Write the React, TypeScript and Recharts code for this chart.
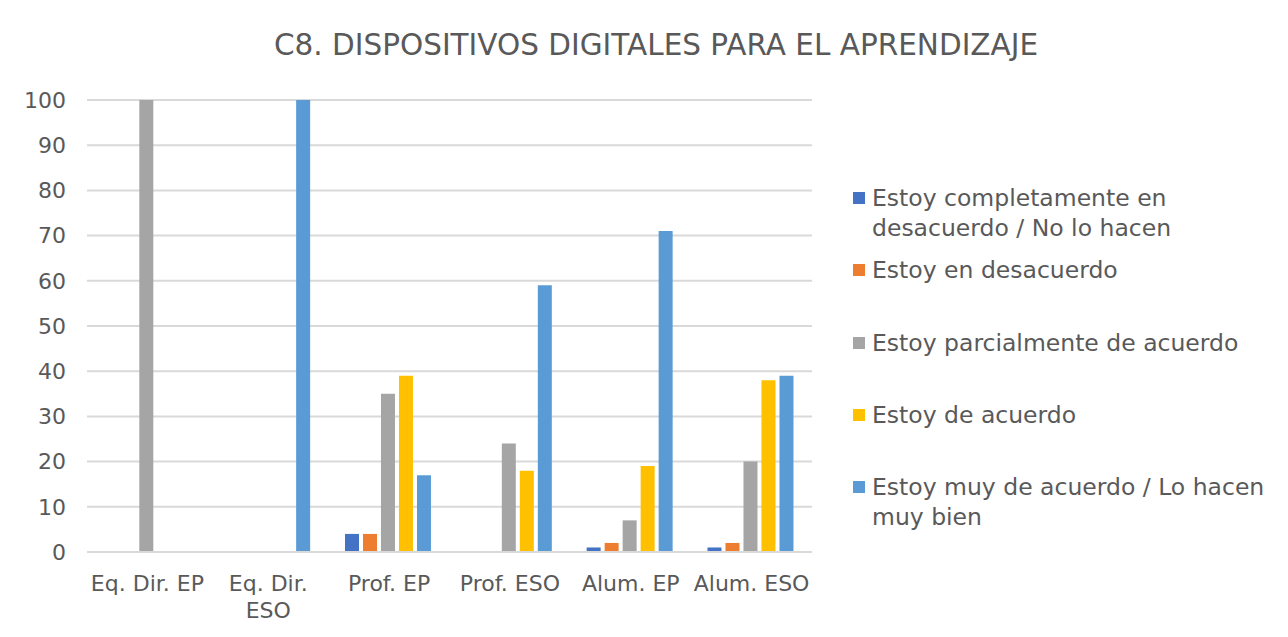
import { Bar, BarChart, CartesianGrid, Legend, XAxis, YAxis } from "recharts";

const categories = ["Eq. Dir. EP", "Eq. Dir. ESO", "Prof. EP", "Prof. ESO", "Alum. EP", "Alum. ESO"];
const tickLines: string[][] = [["Eq. Dir. EP"], ["Eq. Dir.", "ESO"], ["Prof. EP"], ["Prof. ESO"], ["Alum. EP"], ["Alum. ESO"]];

const completDesacuerdo = [0, 0, 4, 0, 1, 1];
const desacuerdo = [0, 0, 4, 0, 2, 2];
const parcialAcuerdo = [100, 0, 35, 24, 7, 20];
const deAcuerdo = [0, 0, 39, 18, 19, 38];
const muyDeAcuerdo = [0, 100, 17, 59, 71, 39];

const yTicks = [0, 10, 20, 30, 40, 50, 60, 70, 80, 90, 100];

const seriesNames = [
  "Estoy completamente en desacuerdo / No lo hacen",
  "Estoy en desacuerdo",
  "Estoy parcialmente de acuerdo",
  "Estoy de acuerdo",
  "Estoy muy de acuerdo / Lo hacen muy bien",
];
const seriesKeys = ["s1", "s2", "s3", "s4", "s5"];
const seriesColors = ["#4472C4", "#ED7D31", "#A5A5A5", "#FFC000", "#5B9BD5"];

const data = categories.map((name, i) => ({
  name,
  s1: completDesacuerdo[i],
  s2: desacuerdo[i],
  s3: parcialAcuerdo[i],
  s4: deAcuerdo[i],
  s5: muyDeAcuerdo[i],
}));

const FONT = "'DejaVu Sans', sans-serif";
const TEXT = "#595959";

function CategoryTick(props: any) {
  const { x, y, payload } = props;
  const lines = tickLines[payload.index] ?? [payload.value];
  return (
    <text x={x} y={y} textAnchor="middle" fill={TEXT} fontSize={22} fontFamily={FONT}>
      {lines.map((l, k) => (
        <tspan key={k} x={x} dy={k === 0 ? 31 : 27}>
          {l}
        </tspan>
      ))}
    </text>
  );
}

function LegendBox() {
  return (
    <div style={{ paddingLeft: 41, fontFamily: FONT, fontSize: 23.5, color: TEXT }}>
      {seriesNames.map((n, i) => (
        <div key={n} style={{ height: 72.3, display: "flex", alignItems: "flex-start" }}>
          <span
            style={{
              width: 12,
              height: 12,
              background: seriesColors[i],
              marginTop: 9,
              marginRight: 7,
              flex: "0 0 auto",
            }}
          />
          <span style={{ lineHeight: "30px", width: 405 }}>{n}</span>
        </div>
      ))}
    </div>
  );
}

export default function App() {
  return (
    <div
      style={{
        position: "relative",
        width: 1272,
        height: 629,
        margin: "-1px 0 0 -1px",
        border: "1px solid #d9d9d9",
        background: "#fff",
      }}
    >
      <div
        style={{
          position: "absolute",
          top: 20,
          left: 0,
          width: 1296,
          textAlign: "center",
          fontFamily: FONT,
          fontSize: 29.5,
          color: TEXT,
          pointerEvents: "none",
        }}
      >
        C8. DISPOSITIVOS DIGITALES PARA EL APRENDIZAJE
      </div>
      <BarChart
        width={1272}
        height={629}
        data={data}
        margin={{ top: 92, right: 8, bottom: 0, left: 0 }}
        barCategoryGap="13.5%"
        barGap={4}
      >
        <CartesianGrid vertical={false} stroke="#d9d9d9" strokeWidth={2} />
        <XAxis
          dataKey="name"
          tick={<CategoryTick />}
          tickLine={false}
          axisLine={{ stroke: "#d9d9d9", strokeWidth: 2 }}
          interval={0}
          height={85}
        />
        <YAxis
          domain={[0, 100]}
          ticks={yTicks}
          width={79}
          axisLine={false}
          tickLine={false}
          tickSize={0}
          tickMargin={21}
          tick={{ fill: TEXT, fontSize: 22, fontFamily: FONT }}
        />
        <Legend
          layout="vertical"
          align="right"
          verticalAlign="top"
          wrapperStyle={{ top: 175, width: 460 }}
          content={() => <LegendBox />}
        />
        {seriesKeys.map((k, i) => (
          <Bar key={k} dataKey={k} name={seriesNames[i]} fill={seriesColors[i]} isAnimationActive={false} />
        ))}
      </BarChart>
    </div>
  );
}
